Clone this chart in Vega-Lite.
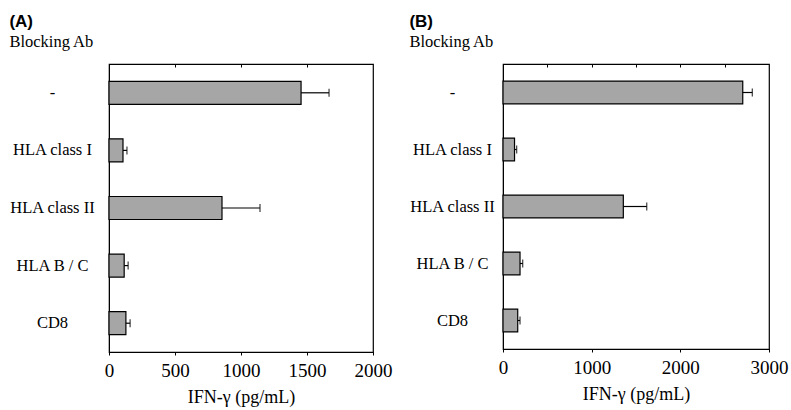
{
  "$schema": "https://vega.github.io/schema/vega-lite/v6.json",
  "padding": {"left": 8, "top": 12, "right": 2, "bottom": 2},
  "background": "white",
  "spacing": 15,
  "datasets": {
    "A": [
      {"ab": "-", "mean": 1455, "upper": 1667},
      {"ab": "HLA class I", "mean": 106, "upper": 136},
      {"ab": "HLA class II", "mean": 856, "upper": 1144},
      {"ab": "HLA B / C", "mean": 115, "upper": 145},
      {"ab": "CD8", "mean": 128, "upper": 160}
    ],
    "B": [
      {"ab": "-", "mean": 2704, "upper": 2812},
      {"ab": "HLA class I", "mean": 130, "upper": 154},
      {"ab": "HLA class II", "mean": 1357, "upper": 1621},
      {"ab": "HLA B / C", "mean": 192, "upper": 222},
      {"ab": "CD8", "mean": 166, "upper": 192}
    ]
  },
  "config": {
    "view": {"stroke": "#000", "strokeWidth": 1.2},
    "title": {
      "anchor": "start",
      "font": "Liberation Sans",
      "fontSize": 17,
      "fontWeight": "bold",
      "color": "#000",
      "subtitleFont": "Liberation Serif",
      "subtitleFontSize": 16.5,
      "subtitleColor": "#000",
      "subtitlePadding": 3,
      "offset": 12
    },
    "axis": {
      "grid": false,
      "domainColor": "#000",
      "tickColor": "#000",
      "labelColor": "#000",
      "titleColor": "#000",
      "labelFont": "Liberation Serif",
      "titleFont": "Liberation Serif",
      "titleFontWeight": "normal"
    },
    "axisX": {
      "labelFontSize": 19,
      "titleFontSize": 18,
      "tickSize": 3,
      "labelPadding": 6,
      "titlePadding": 8,
      "labelFlush": false,
      "format": "d"
    },
    "axisY": {
      "labelFontSize": 16.5,
      "labelAlign": "center",
      "labelBaseline": "middle",
      "ticks": false,
      "title": null
    }
  },
  "hconcat": [
    {
      "title": {"text": "(A)", "subtitle": "Blocking Ab"},
      "width": 264,
      "height": 288,
      "data": {"name": "A"},
      "encoding": {
        "y": {
          "field": "ab",
          "type": "nominal",
          "sort": ["-", "HLA class I", "HLA class II", "HLA B / C", "CD8"],
          "scale": {"paddingInner": 0.6, "paddingOuter": 0.3},
          "axis": {"labelPadding": 57, "title": null}
        }
      },
      "resolve": {"axis": {"x": "independent"}},
      "layer": [
        {
          "mark": {"type": "bar", "fill": "#a6a6a6", "stroke": "#000", "strokeWidth": 1.2},
          "encoding": {
            "x": {
              "field": "mean",
              "type": "quantitative",
              "scale": {"domain": [0, 2000], "nice": false},
              "axis": {"values": [0, 500, 1000, 1500, 2000], "title": "IFN-γ (pg/mL)"}
            }
          }
        },
        {
          "mark": {"type": "rule", "stroke": "#000", "strokeWidth": 1.2},
          "encoding": {
            "x": {
              "field": "mean",
              "type": "quantitative",
              "axis": {"orient": "top", "values": [500, 1000, 1500], "labels": false, "domain": false, "title": null, "tickSize": -3}
            },
            "x2": {"field": "upper"}
          }
        },
        {
          "mark": {"type": "tick", "color": "#000", "size": 8, "thickness": 1.3, "orient": "vertical"},
          "encoding": {
            "x": {"field": "upper", "type": "quantitative", "axis": null}
          }
        }
      ]
    },
    {
      "title": {"text": "(B)", "subtitle": "Blocking Ab"},
      "width": 266,
      "height": 285,
      "data": {"name": "B"},
      "encoding": {
        "y": {
          "field": "ab",
          "type": "nominal",
          "sort": ["-", "HLA class I", "HLA class II", "HLA B / C", "CD8"],
          "scale": {"paddingInner": 0.6, "paddingOuter": 0.3},
          "axis": {"labelPadding": 51, "title": null}
        }
      },
      "resolve": {"axis": {"x": "independent"}},
      "layer": [
        {
          "mark": {"type": "bar", "fill": "#a6a6a6", "stroke": "#000", "strokeWidth": 1.2},
          "encoding": {
            "x": {
              "field": "mean",
              "type": "quantitative",
              "scale": {"domain": [0, 3000], "nice": false},
              "axis": {"values": [0, 1000, 2000, 3000], "title": "IFN-γ (pg/mL)"}
            }
          }
        },
        {
          "mark": {"type": "rule", "stroke": "#000", "strokeWidth": 1.2},
          "encoding": {
            "x": {
              "field": "mean",
              "type": "quantitative",
              "axis": {"orient": "top", "values": [500, 1000, 1500, 2000, 2500], "labels": false, "domain": false, "title": null, "tickSize": -3}
            },
            "x2": {"field": "upper"}
          }
        },
        {
          "mark": {"type": "tick", "color": "#000", "size": 8, "thickness": 1.3, "orient": "vertical"},
          "encoding": {
            "x": {"field": "upper", "type": "quantitative", "axis": null}
          }
        }
      ]
    }
  ]
}
